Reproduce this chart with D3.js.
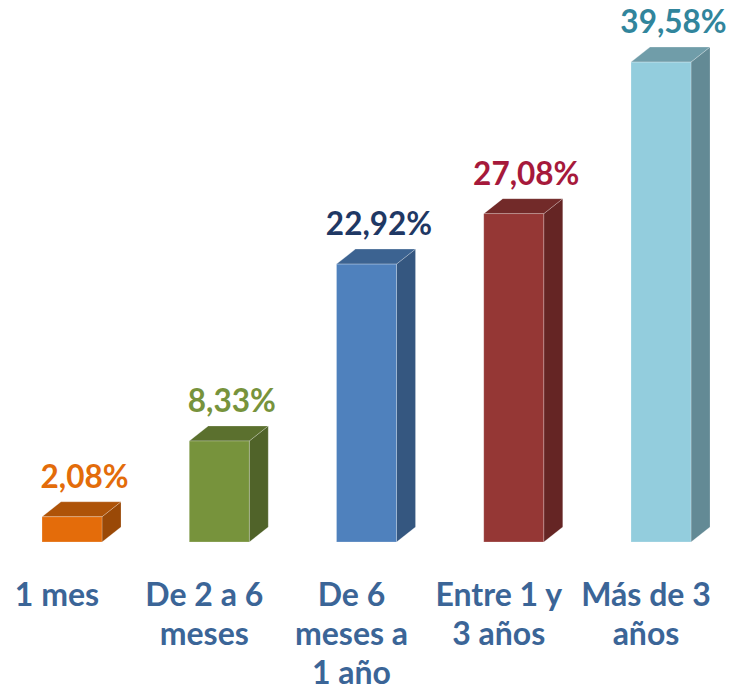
<!DOCTYPE html>
<html lang="es">
<head>
    <meta charset="UTF-8">
    <title>Antigüedad</title>
    <script src="https://d3js.org/d3.v7.min.js"></script>
    <style>
        body {
            margin: 0;
            background: #ffffff;
        }
        #chart text {
            font-family: Lato, "Open Sans", sans-serif;
            font-weight: bold;
        }
    </style>
</head>
<body>
    <div id="chart"></div>

    <script>
        const categories = [
            ["1 mes"],
            ["De 2 a 6", "meses"],
            ["De 6", "meses a", "1 año"],
            ["Entre 1 y", "3 años"],
            ["Más de 3", "años"]
        ];
        const values = [2.08, 8.33, 22.92, 27.08, 39.58];
        const valueLabels = ["2,08%", "8,33%", "22,92%", "27,08%", "39,58%"];
        const barColors = ["#e46c0a", "#77933c", "#4f81bd", "#953735", "#93cddd"];
        const labelColors = ["#e36c0a", "#77933c", "#1f3864", "#a6193b", "#31859c"];

        const width = 732, height = 685;
        const baseY = 542;
        const barW = 60, depthX = 19, depthY = 15;

        const svg = d3.select("#chart").append("svg")
            .attr("width", width)
            .attr("height", height);

        const x = d3.scalePoint()
            .domain(d3.range(values.length))
            .range([72, 661]);

        const y = d3.scaleLinear()
            .domain([0, 40])
            .range([baseY, baseY - 485]);

        const bars = svg.selectAll("g.bar")
            .data(values)
            .enter().append("g")
            .attr("class", "bar");

        // side face
        bars.append("path")
            .attr("d", (d, i) => {
                const x1 = x(i) + barW / 2, top = y(d);
                return `M${x1},${baseY} L${x1 + depthX},${baseY - depthY} L${x1 + depthX},${top - depthY} L${x1},${top} Z`;
            })
            .attr("fill", (d, i) => d3.color(barColors[i]).darker(1.1))
            .attr("stroke", "rgba(255,255,255,0.25)")
            .attr("stroke-width", 0.8);

        // top face
        bars.append("path")
            .attr("d", (d, i) => {
                const x0 = x(i) - barW / 2, x1 = x(i) + barW / 2, top = y(d);
                return `M${x0},${top} L${x0 + depthX},${top - depthY} L${x1 + depthX},${top - depthY} L${x1},${top} Z`;
            })
            .attr("fill", (d, i) => d3.color(barColors[i]).darker(0.75))
            .attr("stroke", "rgba(255,255,255,0.3)")
            .attr("stroke-width", 0.8);

        // front face
        bars.append("rect")
            .attr("x", (d, i) => x(i) - barW / 2)
            .attr("y", d => y(d))
            .attr("width", barW)
            .attr("height", d => baseY - y(d))
            .attr("fill", (d, i) => barColors[i])
            .attr("stroke", "rgba(255,255,255,0.3)")
            .attr("stroke-width", 0.8);

        // value labels
        svg.selectAll("text.value")
            .data(values)
            .enter().append("text")
            .attr("class", "value")
            .attr("x", (d, i) => x(i) + depthX / 2 + 3)
            .attr("y", d => y(d) - 29)
            .attr("text-anchor", "middle")
            .attr("font-size", 31.5)
            .attr("fill", (d, i) => labelColors[i])
            .text((d, i) => valueLabels[i]);

        // category labels
        const cat = svg.selectAll("text.cat")
            .data(categories)
            .enter().append("text")
            .attr("class", "cat")
            .attr("text-anchor", "middle")
            .attr("font-size", 32)
            .attr("fill", "#3b6597");

        cat.selectAll("tspan")
            .data((d, i) => d.map(line => ({ line, i })))
            .enter().append("tspan")
            .attr("x", d => x(d.i) - 15)
            .attr("y", (d, j) => 606 + j * 39)
            .text(d => d.line);
    </script>
</body>
</html>
